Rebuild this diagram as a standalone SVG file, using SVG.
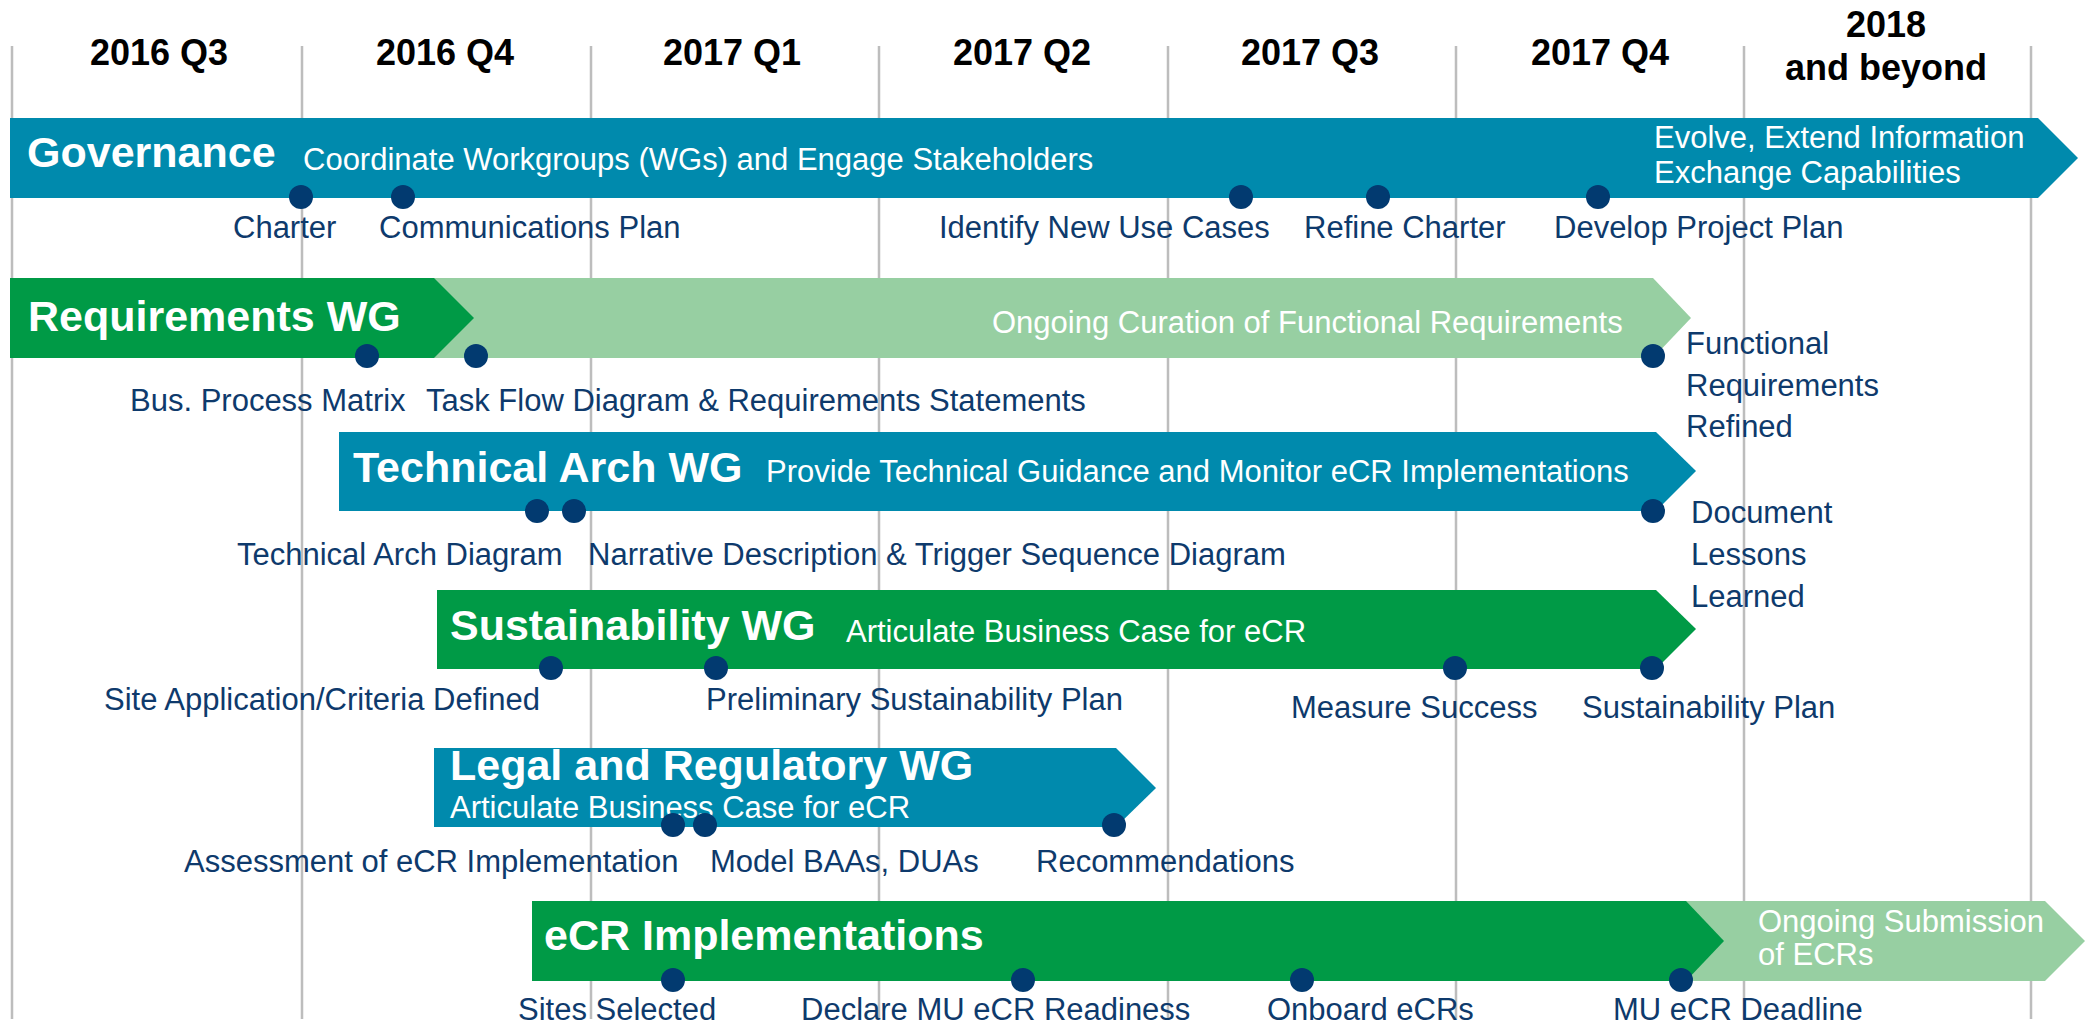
<svg xmlns="http://www.w3.org/2000/svg" width="2087" height="1025" viewBox="0 0 2087 1025">
<defs>
<style>
.grid{stroke:#BDBDBD;stroke-width:2.5;fill:none}
.hdr{font-family:"Liberation Sans",Arial,sans-serif;font-weight:bold;font-size:36px;fill:#000;text-anchor:middle}
.title{font-family:"Liberation Sans",Arial,sans-serif;font-weight:bold;font-size:43px;fill:#fff}
.body{font-family:"Liberation Sans",Arial,sans-serif;font-size:31px;fill:#fff}
.lbl{font-family:"Liberation Sans",Arial,sans-serif;font-size:31px;fill:#0E3A6C}
.teal{fill:#008AAD}
.green{fill:#009A46}
.lgreen{fill:#97CFA2}
.dot{fill:#023A70}
</style>
</defs>
<rect width="2087" height="1025" fill="#fff"/>
<g id="connectors">
<line class="grid" x1="12" y1="46" x2="12" y2="1019"/>
<line class="grid" x1="302" y1="46" x2="302" y2="1019"/>
<line class="grid" x1="591" y1="46" x2="591" y2="1019"/>
<line class="grid" x1="879" y1="46" x2="879" y2="1019"/>
<line class="grid" x1="1168" y1="46" x2="1168" y2="1019"/>
<line class="grid" x1="1456" y1="46" x2="1456" y2="1019"/>
<line class="grid" x1="1744" y1="46" x2="1744" y2="1019"/>
<line class="grid" x1="2031" y1="46" x2="2031" y2="1019"/>
</g>
<g id="headers">
<text class="hdr" x="159" y="65">2016 Q3</text>
<text class="hdr" x="445" y="65">2016 Q4</text>
<text class="hdr" x="732" y="65">2017 Q1</text>
<text class="hdr" x="1022" y="65">2017 Q2</text>
<text class="hdr" x="1310" y="65">2017 Q3</text>
<text class="hdr" x="1600" y="65">2017 Q4</text>
<text class="hdr" x="1886" y="37">2018</text>
<text class="hdr" x="1886" y="80">and beyond</text>
</g>
<g id="governance">
<polygon class="teal" points="10,118 2038,118 2078,158 2038,198 10,198"/>
<text class="title" x="27" y="167">Governance</text>
<text class="body" x="303" y="170">Coordinate Workgroups (WGs) and Engage Stakeholders</text>
<text class="body" x="1654" y="148">Evolve, Extend Information</text>
<text class="body" x="1654" y="183">Exchange Capabilities</text>
<circle class="dot" cx="301" cy="197" r="12"/>
<circle class="dot" cx="403" cy="197" r="12"/>
<circle class="dot" cx="1241" cy="197" r="12"/>
<circle class="dot" cx="1378" cy="197" r="12"/>
<circle class="dot" cx="1598" cy="197" r="12"/>
<text class="lbl" x="233" y="238">Charter</text>
<text class="lbl" x="379" y="238">Communications Plan</text>
<text class="lbl" x="939" y="238">Identify New Use Cases</text>
<text class="lbl" x="1304" y="238">Refine Charter</text>
<text class="lbl" x="1554" y="238">Develop Project Plan</text>
</g>
<g id="requirements">
<polygon class="lgreen" points="400,278 1653,278 1691,318 1653,358 400,358"/>
<polygon class="green" points="10,278 434,278 474,318 434,358 10,358"/>
<text class="title" x="28" y="331">Requirements WG</text>
<text class="body" x="992" y="333">Ongoing Curation of Functional Requirements</text>
<circle class="dot" cx="367" cy="356" r="12"/>
<circle class="dot" cx="476" cy="356" r="12"/>
<circle class="dot" cx="1653" cy="356" r="12"/>
<text class="lbl" x="130" y="411">Bus. Process Matrix</text>
<text class="lbl" x="426" y="411">Task Flow Diagram &amp; Requirements Statements</text>
<text class="lbl" x="1686" y="354">Functional</text>
<text class="lbl" x="1686" y="396">Requirements</text>
<text class="lbl" x="1686" y="437">Refined</text>
</g>
<g id="technical-arch">
<polygon class="teal" points="339,432 1656,432 1696,471 1656,511 339,511"/>
<text class="title" x="353" y="482">Technical Arch WG</text>
<text class="body" x="766" y="482">Provide Technical Guidance and Monitor eCR Implementations</text>
<circle class="dot" cx="537" cy="511" r="12"/>
<circle class="dot" cx="574" cy="511" r="12"/>
<circle class="dot" cx="1653" cy="511" r="12"/>
<text class="lbl" x="237" y="565">Technical Arch Diagram</text>
<text class="lbl" x="588" y="565">Narrative Description &amp; Trigger Sequence Diagram</text>
<text class="lbl" x="1691" y="523">Document</text>
<text class="lbl" x="1691" y="565">Lessons</text>
<text class="lbl" x="1691" y="607">Learned</text>
</g>
<g id="sustainability">
<polygon class="green" points="437,590 1656,590 1696,629 1656,669 437,669"/>
<text class="title" x="450" y="640">Sustainability WG</text>
<text class="body" x="846" y="642">Articulate Business Case for eCR</text>
<circle class="dot" cx="551" cy="668" r="12"/>
<circle class="dot" cx="716" cy="668" r="12"/>
<circle class="dot" cx="1455" cy="668" r="12"/>
<circle class="dot" cx="1652" cy="668" r="12"/>
<text class="lbl" x="104" y="710">Site Application/Criteria Defined</text>
<text class="lbl" x="706" y="710">Preliminary Sustainability Plan</text>
<text class="lbl" x="1291" y="718">Measure Success</text>
<text class="lbl" x="1582" y="718">Sustainability Plan</text>
</g>
<g id="legal">
<polygon class="teal" points="434,748 1116,748 1156,788 1116,827 434,827"/>
<text class="title" x="450" y="780">Legal and Regulatory WG</text>
<text class="body" x="450" y="818">Articulate Business Case for eCR</text>
<circle class="dot" cx="673" cy="825" r="12"/>
<circle class="dot" cx="705" cy="825" r="12"/>
<circle class="dot" cx="1114" cy="825" r="12"/>
<text class="lbl" x="184" y="872">Assessment of eCR Implementation</text>
<text class="lbl" x="710" y="872">Model BAAs, DUAs</text>
<text class="lbl" x="1036" y="872">Recommendations</text>
</g>
<g id="ecr-implementations">
<polygon class="lgreen" points="1660,901 2045,901 2085,941 2045,981 1660,981"/>
<polygon class="green" points="532,901 1686,901 1724,941 1686,981 532,981"/>
<text class="title" x="544" y="950">eCR Implementations</text>
<text class="body" x="1758" y="932">Ongoing Submission</text>
<text class="body" x="1758" y="965">of ECRs</text>
<circle class="dot" cx="673" cy="980" r="12"/>
<circle class="dot" cx="1023" cy="980" r="12"/>
<circle class="dot" cx="1302" cy="980" r="12"/>
<circle class="dot" cx="1681" cy="980" r="12"/>
<text class="lbl" x="518" y="1020">Sites Selected</text>
<text class="lbl" x="801" y="1020">Declare MU eCR Readiness</text>
<text class="lbl" x="1267" y="1020">Onboard eCRs</text>
<text class="lbl" x="1613" y="1020">MU eCR Deadline</text>
</g>
</svg>
